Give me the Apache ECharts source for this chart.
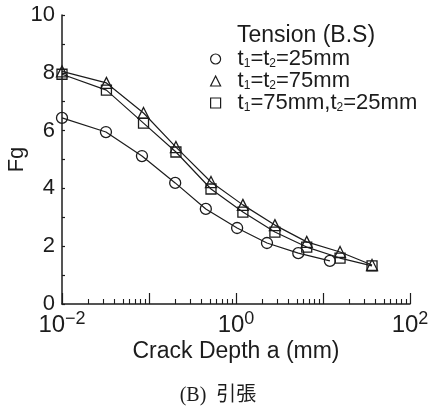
<!DOCTYPE html>
<html>
<head>
<meta charset="utf-8">
<script src="https://cdn.jsdelivr.net/npm/echarts@6/dist/echarts.min.js"></script>
<style>
html,body{margin:0;padding:0;background:#fff;}
#c{width:436px;height:410px;}
</style>
</head>
<body>
<div id="c"></div>
<script>
// Data
const seriesNames = ['t1=t2=25mm', 't1=t2=75mm', 't1=75mm,t2=25mm'];
const crackA25 = [0.01, 0.032, 0.083, 0.2, 0.45, 1.03, 2.27, 5.2, 12];
const fg25 = [6.44, 5.95, 5.12, 4.19, 3.29, 2.63, 2.11, 1.76, 1.49];
const crackA75 = [0.01, 0.0324, 0.0865, 0.204, 0.516, 1.2, 2.8, 6.5, 15.7, 36.6];
const fg75 = [8.05, 7.65, 6.61, 5.43, 4.22, 3.43, 2.73, 2.15, 1.80, 1.35];
const crackAMix = [0.01, 0.0324, 0.0865, 0.204, 0.516, 1.2, 2.8, 6.5, 15.7, 36.6];
const fgMix = [7.95, 7.40, 6.26, 5.26, 3.98, 3.18, 2.49, 1.97, 1.59, 1.32];
const xLabelExps = [-2, 0, 2];
const yTickLabels = [0, 2, 4, 6, 8, 10];

const pair = (xs, ys) => xs.map((x, i) => [x, ys[i]]);
const minorVals = [];
for (let d = -2; d < 2; d++) for (let k = 2; k <= 9; k++) minorVals.push(d + Math.log10(k));

const ink = '#1c1c1c';
const FONT = 'Liberation Sans, Arial, sans-serif';

const chart = echarts.init(document.getElementById('c'), null, {renderer: 'canvas'});
const legendRich = {
  f: {fontSize: 22, fontFamily: FONT, color: ink, lineHeight: 22, padding: [0, 0, 0, 12]},
  t: {fontSize: 22, fontFamily: FONT, color: ink, lineHeight: 22},
  s: {fontSize: 12, fontFamily: FONT, color: ink, padding: [10, 0, 0, 0]}
};
const legendFmt = {
  't1=t2=25mm': '{f|t}{s|1}{t|=t}{s|2}{t|=25mm}',
  't1=t2=75mm': '{f|t}{s|1}{t|=t}{s|2}{t|=75mm}',
  't1=75mm,t2=25mm': '{f|t}{s|1}{t|=75mm,t}{s|2}{t|=25mm}'
};
const symStyle = {color: 'rgba(255,255,255,0)', borderColor: ink, borderWidth: 1.3};
function mk(name, data, symbol, size) {
  return {
    name, type: 'line', data, symbol, symbolSize: size, xAxisIndex: 0,
    lineStyle: {color: ink, width: 1.2},
    itemStyle: symStyle,
    emphasis: {disabled: true},
    animation: false
  };
}

chart.setOption({
  animation: false,
  backgroundColor: '#fff',
  title: [
    {text: 'Tension (B.S)', left: 232, top: 19,
     textStyle: {fontSize: 23, fontWeight: 'normal', fontFamily: FONT, color: ink}},
    {text: '(B)  引張', left: 'center', top: 381,
     textStyle: {fontSize: 20, fontWeight: 'normal', fontFamily: 'Liberation Serif, Noto Sans CJK JP, serif', color: ink}}
  ],
  legend: {
    orient: 'vertical', left: 205, top: 43, itemWidth: 10, itemHeight: 10, itemGap: 0,
    data: [
      {name: seriesNames[0], icon: 'circle'},
      {name: seriesNames[1], icon: 'triangle'},
      {name: seriesNames[2], icon: 'rect'}
    ],
    itemStyle: {color: '#fff', borderColor: ink, borderWidth: 1.2},
    formatter: n => legendFmt[n],
    textStyle: {rich: legendRich},
    selectedMode: false
  },
  grid: {left: 62, right: 26, top: 15, bottom: 106, outerBoundsMode: 'none', containLabel: false},
  xAxis: [
    {
      type: 'log', logBase: 10, min: 0.01, max: 100,
      name: 'Crack Depth a (mm)', nameLocation: 'middle', nameGap: 36, nameMoveOverlap: false,
      nameTextStyle: {fontSize: 23, fontFamily: FONT, color: ink},
      axisLine: {lineStyle: {color: ink, width: 1.5}},
      axisTick: {inside: true, length: 11, lineStyle: {color: ink, width: 1.2}},
      splitLine: {show: false},
      axisLabel: {
        margin: 6,
        formatter: v => {
          const e = Math.round(Math.log10(v));
          return xLabelExps.includes(e) ? '{b|10}{e|' + (e < 0 ? '\u2212' : '') + Math.abs(e) + '}' : '';
        },
        rich: {
          b: {fontSize: 24, fontFamily: FONT, color: ink, lineHeight: 24, padding: [6, 0, 0, 0]},
          e: {fontSize: 18, fontFamily: FONT, color: ink, lineHeight: 18, verticalAlign: 'top'}
        }
      }
    },
    {
      type: 'value', min: -2, max: 2, position: 'bottom',
      axisLine: {show: false, onZero: false}, splitLine: {show: false}, axisLabel: {show: false},
      axisTick: {show: true, inside: true, length: 5, customValues: minorVals,
                 lineStyle: {color: ink, width: 1.1}}
    }
  ],
  yAxis: {
    type: 'value', min: 0, max: 10, interval: 1,
    name: 'Fg', nameLocation: 'middle', nameGap: 34, nameRotate: 90, nameMoveOverlap: false,
    nameTextStyle: {fontSize: 22, fontFamily: FONT, color: ink},
    axisLine: {show: true, onZero: false, lineStyle: {color: ink, width: 1.5}},
    axisTick: {show: true, inside: true, length: 3, lineStyle: {color: ink, width: 1.2}},
    splitLine: {show: false},
    axisLabel: {
      margin: 7, fontSize: 22, fontFamily: FONT, color: ink,
      formatter: v => yTickLabels.includes(v) ? String(v) : ''
    }
  },
  series: [
    mk(seriesNames[0], pair(crackA25, fg25), 'circle', 11),
    mk(seriesNames[1], pair(crackA75, fg75), 'triangle', 11),
    mk(seriesNames[2], pair(crackAMix, fgMix), 'rect', 10)
  ]
});
</script>
</body>
</html>
